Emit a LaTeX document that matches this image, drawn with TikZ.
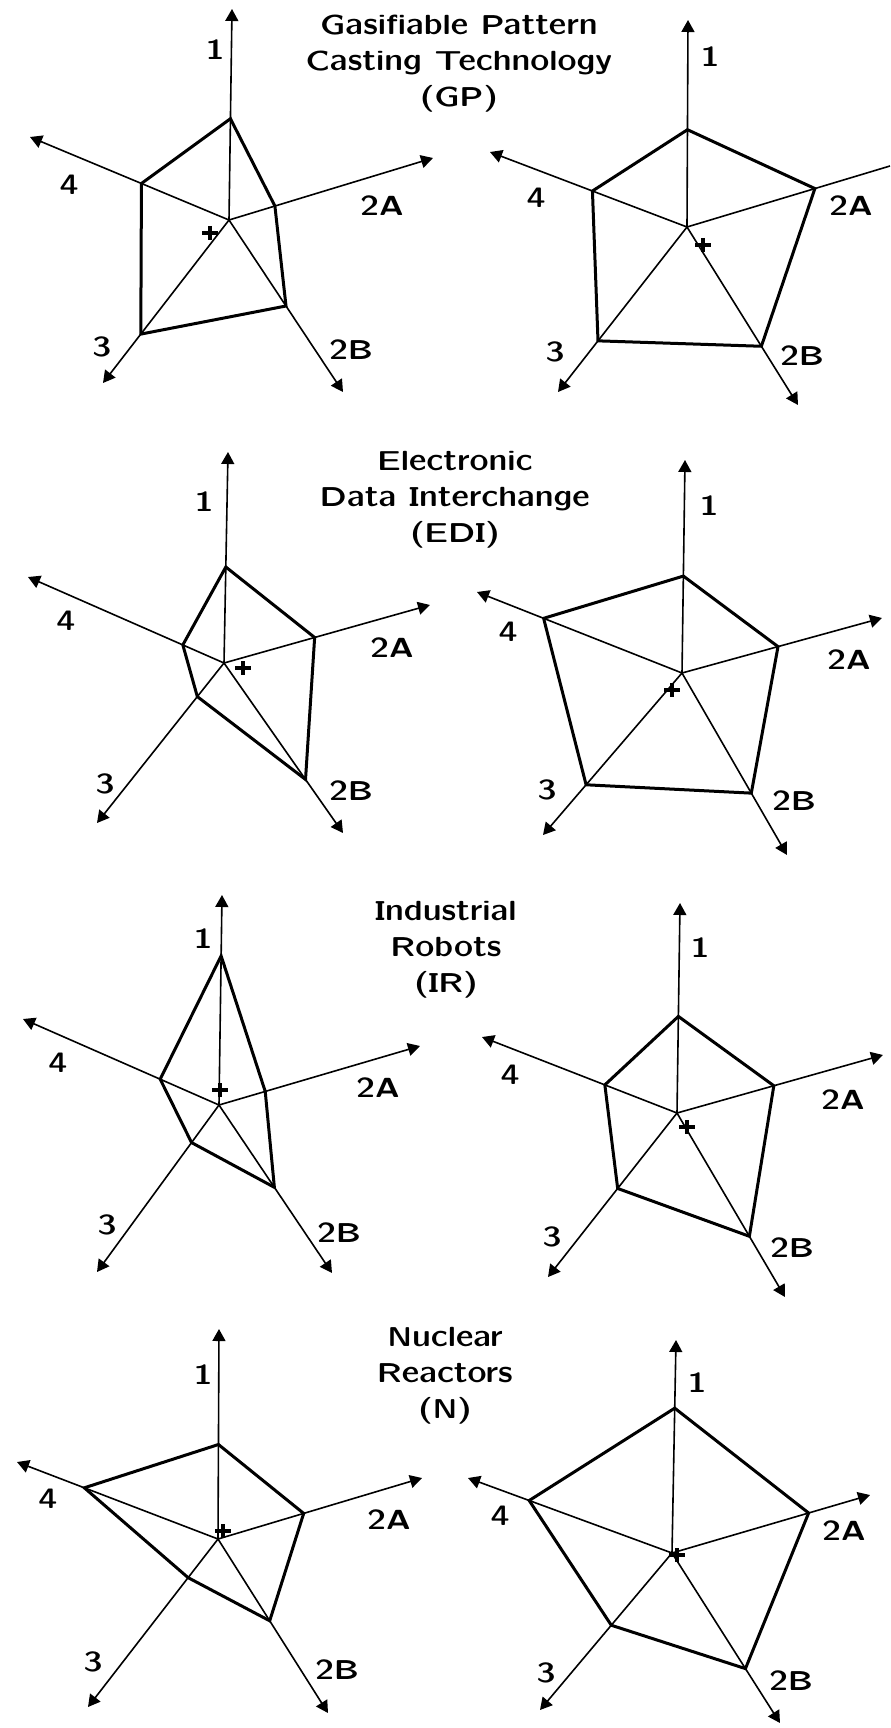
\documentclass[tikz,border=0pt]{standalone}
\usetikzlibrary{arrows.meta,calc}
\newcommand\slfont{\fontencoding{OT1}\fontfamily{lcmss}\fontseries{bx}\fontshape{n}\fontsize{15.2}{18}\selectfont}
\newcommand\lblfont{\fontencoding{OT1}\fontfamily{lcmss}\fontseries{bx}\fontshape{n}\fontsize{15}{18}\selectfont}
\tikzset{
  axisline/.style={line width=0.8pt,-{Triangle[length=6pt,width=6.5pt]}},
  axisplain/.style={line width=0.8pt},
  polyline/.style={line width=1.5pt,line join=miter},
  axlabel/.style={inner sep=0pt,font=\lblfont},
  title/.style={inner sep=0pt,align=center,font=\slfont},
  plusmark/.style={line width=1.8pt},
}
% #1 prefix, #2..#6 fractions on axes 1,2A,2B,3,4, #7 style of the 2A axis
\newcommand\radarpanel[7]{%
  \draw[axisline] (#1O) -- (#11);
  \draw[#7] (#1O) -- (#12A);
  \draw[axisline] (#1O) -- (#12B);
  \draw[axisline] (#1O) -- (#13);
  \draw[axisline] (#1O) -- (#14);
  \draw[polyline] ($(#1O)!#2!(#11)$) -- ($(#1O)!#3!(#12A)$) -- ($(#1O)!#4!(#12B)$)
     -- ($(#1O)!#5!(#13)$) -- ($(#1O)!#6!(#14)$) -- cycle;
  \draw[plusmark] ($(#1P)+(-8,0)$) -- ($(#1P)+(8,0)$) ($(#1P)+(0,-7)$) -- ($(#1P)+(0,7)$);
}
\begin{document}
\begin{tikzpicture}[x=0.5pt,y=-0.5pt]
\useasboundingbox (0,0) rectangle (890,1728);
\fill[white] (0,0) rectangle (890,1728);

% ---------- Panel a (GP, left)
\coordinate (aO) at (229,220);
\coordinate (a1) at (232,9);
\coordinate (a2A) at (433,158);
\coordinate (a2B) at (343,392);
\coordinate (a3) at (103,383);
\coordinate (a4) at (30,137);
\coordinate (aP) at (210,233);
\radarpanel{a}{0.48}{0.225}{0.50}{0.70}{0.44}{axisline}
\node[axlabel] (al1) at (215,50) {1};
\node[axlabel] (al2A) at (382,206) {2A};
\node[axlabel] (al2B) at (351,350) {2B};
\node[axlabel] (al3) at (102,347) {3};
\node[axlabel] (al4) at (69,185) {4};

% ---------- Panel b (GP, right)
\coordinate (bO) at (687,227);
\coordinate (b1) at (688,20);
\coordinate (b2A) at (890,166);
\coordinate (b2B) at (798,405);
\coordinate (b3) at (558,392);
\coordinate (b4) at (490,152);
\coordinate (bP) at (703,245);
\radarpanel{b}{0.47}{0.63}{0.67}{0.69}{0.48}{axisplain}
\node[axlabel] (bl1) at (710,57) {1};
\node[axlabel] (bl2A) at (851,206) {2A};
\node[axlabel] (bl2B) at (802,356) {2B};
\node[axlabel] (bl3) at (555,352) {3};
\node[axlabel] (bl4) at (536,198) {4};

\node[title] (tGP) at (459,64) {Gasifiable Pattern\\Casting Technology\\(GP)};

% ---------- Panel c (EDI, left)
\coordinate (cO) at (224,663);
\coordinate (c1) at (228,452);
\coordinate (c2A) at (430,605);
\coordinate (c2B) at (343,833);
\coordinate (c3) at (97,823);
\coordinate (c4) at (28,577);
\coordinate (cP) at (243,668);
\radarpanel{c}{0.455}{0.44}{0.685}{0.21}{0.21}{axisline}
\node[axlabel] (cl1) at (204,502) {1};
\node[axlabel] (cl2A) at (392,648) {2A};
\node[axlabel] (cl2B) at (351,791) {2B};
\node[axlabel] (cl3) at (105,784) {3};
\node[axlabel] (cl4) at (66,621) {4};

% ---------- Panel d (EDI, right)
\coordinate (dO) at (682,673);
\coordinate (d1) at (685,460);
\coordinate (d2A) at (882,618);
\coordinate (d2B) at (787,855);
\coordinate (d3) at (543,835);
\coordinate (d4) at (477,592);
\coordinate (dP) at (672,690);
\radarpanel{d}{0.455}{0.48}{0.66}{0.69}{0.675}{axisline}
\node[axlabel] (dl1) at (709,506) {1};
\node[axlabel] (dl2A) at (849,660) {2A};
\node[axlabel] (dl2B) at (794,801) {2B};
\node[axlabel] (dl3) at (547,790) {3};
\node[axlabel] (dl4) at (508,632) {4};

\node[title] (tEDI) at (455,500) {Electronic\\Data Interchange\\(EDI)};

% ---------- Panel e (IR, left)
\coordinate (eO) at (219,1105);
\coordinate (e1) at (222,895);
\coordinate (e2A) at (420,1046);
\coordinate (e2B) at (332,1273);
\coordinate (e3) at (97,1272);
\coordinate (e4) at (23,1019);
\coordinate (eP) at (220,1090);
\radarpanel{e}{0.71}{0.23}{0.49}{0.225}{0.30}{axisline}
\node[axlabel] (el1) at (203,939) {1};
\node[axlabel] (el2A) at (378,1088) {2A};
\node[axlabel] (el2B) at (339,1233) {2B};
\node[axlabel] (el3) at (107,1225) {3};
\node[axlabel] (el4) at (58,1063) {4};

% ---------- Panel f (IR, right)
\coordinate (fO) at (677,1113);
\coordinate (f1) at (680,903);
\coordinate (f2A) at (883,1055);
\coordinate (f2B) at (785,1297);
\coordinate (f3) at (548,1277);
\coordinate (f4) at (482,1037);
\coordinate (fP) at (687,1127);
\radarpanel{f}{0.46}{0.47}{0.67}{0.46}{0.37}{axisline}
\node[axlabel] (fl1) at (700,948) {1};
\node[axlabel] (fl2A) at (843,1100) {2A};
\node[axlabel] (fl2B) at (792,1248) {2B};
\node[axlabel] (fl3) at (552,1237) {3};
\node[axlabel] (fl4) at (510,1075) {4};

\node[title] (tIR) at (446,950) {Industrial\\Robots\\(IR)};

% ---------- Panel g (N, left)
\coordinate (gO) at (218,1539);
\coordinate (g1) at (219,1329);
\coordinate (g2A) at (422,1478);
\coordinate (g2B) at (328,1713);
\coordinate (g3) at (88,1707);
\coordinate (g4) at (17,1462);
\coordinate (gP) at (223,1531);
\radarpanel{g}{0.45}{0.42}{0.47}{0.23}{0.665}{axisline}
\node[axlabel] (gl1) at (203,1375) {1};
\node[axlabel] (gl2A) at (389,1520) {2A};
\node[axlabel] (gl2B) at (337,1670) {2B};
\node[axlabel] (gl3) at (93,1662) {3};
\node[axlabel] (gl4) at (48,1499) {4};

% ---------- Panel h (N, right)
\coordinate (hO) at (672,1553);
\coordinate (h1) at (676,1340);
\coordinate (h2A) at (870,1495);
\coordinate (h2B) at (780,1723);
\coordinate (h3) at (540,1710);
\coordinate (h4) at (468,1478);
\coordinate (hP) at (677,1555);
\radarpanel{h}{0.68}{0.69}{0.68}{0.46}{0.70}{axisline}
\node[axlabel] (hl1) at (697,1383) {1};
\node[axlabel] (hl2A) at (844,1531) {2A};
\node[axlabel] (hl2B) at (791,1681) {2B};
\node[axlabel] (hl3) at (546,1673) {3};
\node[axlabel] (hl4) at (500,1516) {4};

\node[title] (tN) at (445,1376) {Nuclear\\Reactors\\(N)};
\end{tikzpicture}
\end{document}
